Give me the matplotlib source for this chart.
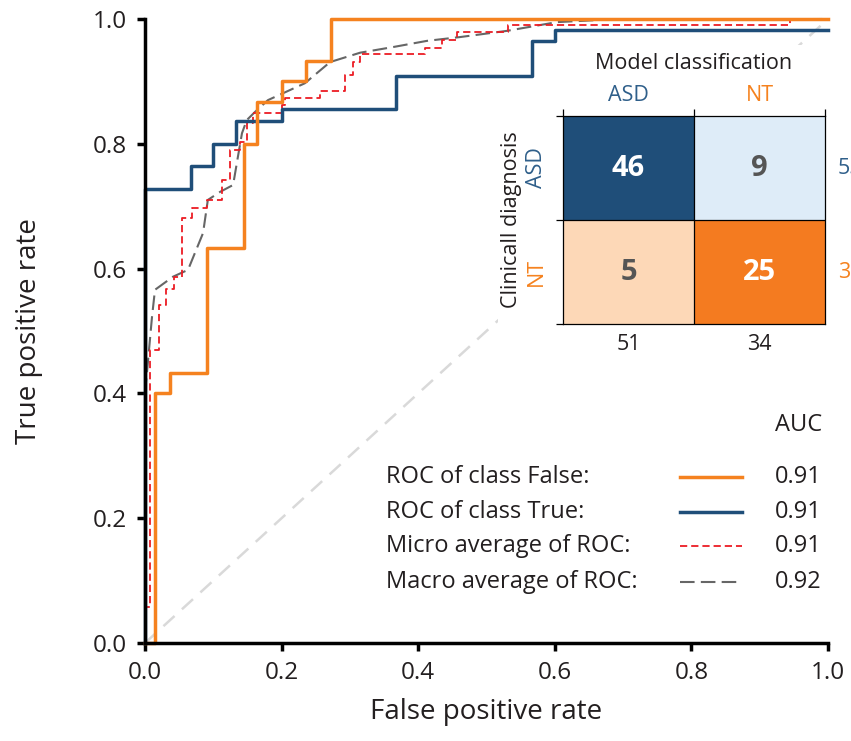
import matplotlib
matplotlib.use("Agg")
import matplotlib.pyplot as plt
from matplotlib.patches import Rectangle
import numpy as np

plt.rcParams['font.family'] = ['Open Sans', 'DejaVu Sans']

# ---------------- data ----------------
fpr_false = [0, 0.014, 0.014, 0.036, 0.036, 0.091, 0.091, 0.145, 0.145, 0.164, 0.164,
             0.2, 0.2, 0.236, 0.236, 0.273, 0.273, 1.0]
tpr_false = [0, 0, 0.4, 0.4, 0.433, 0.433, 0.633, 0.633, 0.8, 0.8, 0.867,
             0.867, 0.9, 0.9, 0.933, 0.933, 1.0, 1.0]

fpr_true = [0, 0, 0.067, 0.067, 0.1, 0.1, 0.133, 0.133, 0.2, 0.2, 0.367, 0.367,
            0.567, 0.567, 0.6, 0.6, 1.0]
tpr_true = [0, 0.727, 0.727, 0.764, 0.764, 0.8, 0.8, 0.836, 0.836, 0.855, 0.855, 0.909,
            0.909, 0.964, 0.964, 0.982, 0.982]

fpr_micro = [0, 0, 0.0073, 0.0073, 0.0198, 0.0198, 0.0307, 0.0307, 0.0425, 0.0425,
             0.0542, 0.0542, 0.0688, 0.0688, 0.0908, 0.0908, 0.1127, 0.1127, 0.1245, 0.1245,
             0.139, 0.139, 0.149, 0.149, 0.158, 0.158, 0.2006, 0.2006, 0.205, 0.205,
             0.256, 0.256, 0.293, 0.293, 0.3045, 0.3045, 0.315, 0.315, 0.41, 0.41,
             0.435, 0.435, 0.457, 0.457, 0.531, 0.531, 0.944, 0.944]
tpr_micro = [0, 0.058, 0.058, 0.47, 0.47, 0.542, 0.542, 0.567, 0.567, 0.587,
             0.587, 0.681, 0.681, 0.697, 0.697, 0.71, 0.71, 0.742, 0.742, 0.79,
             0.79, 0.803, 0.803, 0.833, 0.833, 0.849, 0.849, 0.862, 0.862, 0.873,
             0.873, 0.885, 0.885, 0.91, 0.91, 0.931, 0.931, 0.944, 0.944, 0.954,
             0.954, 0.966, 0.966, 0.979, 0.979, 0.99, 0.99, 1.0]

fpr_macro = [0, 0.0015, 0.0102, 0.0146, 0.041, 0.063, 0.085, 0.092, 0.11, 0.129, 0.136,
             0.142, 0.149, 0.161, 0.18, 0.234, 0.271, 0.315, 0.363, 0.413, 0.461, 0.53,
             0.603, 0.676, 1.0]
tpr_macro = [0, 0.417, 0.522, 0.566, 0.587, 0.598, 0.657, 0.71, 0.723, 0.734, 0.779,
             0.817, 0.838, 0.851, 0.870, 0.897, 0.931, 0.946, 0.955, 0.965, 0.971, 0.981,
             0.995, 0.999, 1.0]

legend_labels = ["ROC of class False:", "ROC of class True:",
                 "Micro average of ROC:", "Macro average of ROC:"]
auc_values = [0.91, 0.91, 0.91, 0.92]

cm_values = [[46, 9], [5, 25]]
class_names = ["ASD", "NT"]
row_totals = [55, 30]
col_totals = [51, 34]

# ---------------- styles ----------------
ORANGE = "#f5821f"
BLUE = "#1f4e79"
RED = "#ec1c24"
GRAY = "#666666"
DIAG = "#d9d9d9"
TXT = "#231f20"
cell_colors = [["#1f4e79", "#deecf8"], ["#fdd8b7", "#f47b20"]]
text_colors = [["white", "#555555"], ["#555555", "white"]]
label_colors = ["#2f5f8a", ORANGE]
LW_MAIN = 2.5
LW_MICRO = 1.3
LW_MACRO = 1.5
D_MICRO = (4, 2.2)
D_MACRO = (7, 3)

W, H = 851, 741
fig = plt.figure(figsize=(W / 100, H / 100), dpi=100)
ax = fig.add_axes([145 / W, 1 - 643 / H, 683 / W, 624 / H])

ax.plot([0, 1], [0, 1], color=DIAG, lw=1.8, dashes=(6, 4), zorder=1)
# white box behind the inset (hides the chance line there)
ax.add_patch(Rectangle((498 / W, 1 - 362 / H), (W - 498) / W, (362 - 45) / H,
                       transform=fig.transFigure, facecolor="white", edgecolor="none",
                       zorder=2, clip_on=False))
ax.plot(fpr_macro, tpr_macro, color=GRAY, lw=LW_MACRO, dashes=D_MACRO, zorder=3,
        clip_on=False)
ax.plot(fpr_micro, tpr_micro, color=RED, lw=LW_MICRO, dashes=D_MICRO, zorder=4,
        clip_on=False)
ax.plot(fpr_true, tpr_true, color=BLUE, lw=LW_MAIN, zorder=5, clip_on=False)
ax.plot(fpr_false, tpr_false, color=ORANGE, lw=LW_MAIN, zorder=6, clip_on=False)

ax.set_xlim(0, 1)
ax.set_ylim(0, 1)
for s in ["top", "right"]:
    ax.spines[s].set_visible(False)
for s in ["left", "bottom"]:
    ax.spines[s].set_linewidth(2.5)
    ax.spines[s].set_zorder(10)
ticks = np.arange(0, 1.01, 0.2)
ax.set_xticks(ticks)
ax.set_yticks(ticks)
ax.set_xticklabels([f"{v:.1f}" for v in ticks])
ax.set_yticklabels([f"{v:.1f}" for v in ticks])
ax.tick_params(direction="out", length=6, width=2.5, labelsize=17.5, pad=7,
               labelcolor=TXT)
ax.set_xlabel("False positive rate", fontsize=20, color=TXT)
ax.set_ylabel("True positive rate", fontsize=20, color=TXT)
ax.xaxis.set_label_coords(0.5, -0.088)
ax.yaxis.set_label_coords(-0.15, 0.5)

# custom legend
FS_LEG = 17
ax.text(0.922, 0.349, "AUC", fontsize=FS_LEG, va="center", ha="left", color=TXT)
row_y = [0.266, 0.21, 0.155, 0.098]
styles = [dict(color=ORANGE, lw=LW_MAIN), dict(color=BLUE, lw=LW_MAIN),
          dict(color=RED, lw=LW_MICRO, dashes=D_MICRO),
          dict(color=GRAY, lw=LW_MACRO, dashes=D_MACRO)]
for lab, auc, yy, st in zip(legend_labels, auc_values, row_y, styles):
    ax.text(0.353, yy, lab, fontsize=FS_LEG, va="center", ha="left", color=TXT)
    ax.plot([0.783, 0.874], [yy, yy], **st)
    ax.text(0.922, yy, f"{auc:.2f}", fontsize=FS_LEG, va="center", ha="left", color=TXT)

# inset confusion matrix
iax = fig.add_axes([563 / W, 1 - 324 / H, 262 / W, 208 / H])
iax.set_zorder(5)
rgb = np.array([[matplotlib.colors.to_rgb(c) for c in row] for row in cell_colors])
iax.imshow(rgb, extent=(0, 2, 2, 0), aspect="auto", interpolation="nearest")
iax.set_xlim(0, 2)
iax.set_ylim(2, 0)
iax.axvline(1, color="black", lw=0.9)
iax.axhline(1, color="black", lw=0.9)
for s in iax.spines.values():
    s.set_linewidth(0.9)
iax.set_xticks([0, 1, 2])
iax.set_yticks([0, 1, 2])
iax.set_xticklabels([])
iax.set_yticklabels([])
iax.tick_params(top=True, bottom=False, left=True, right=False,
                direction="out", length=5, width=0.9)
FS_IN = 15.5
for i in range(2):
    for j in range(2):
        iax.text(j + 0.5, i + 0.5, str(cm_values[i][j]), ha="center", va="center",
                 fontsize=21, fontweight="bold", color=text_colors[i][j])
for k, name in enumerate(class_names):
    iax.text(k + 0.5, -0.1, name, ha="center", va="bottom", fontsize=FS_IN,
             color=label_colors[k])
    iax.text(-0.12, k + 0.5, name, ha="right", va="center", rotation=90, fontsize=FS_IN,
             color=label_colors[k])
    iax.text(k + 0.5, 2.1, str(col_totals[k]), ha="center", va="top", fontsize=FS_IN,
             color=TXT)
    iax.text(2.1, k + 0.5, str(row_totals[k]), ha="left", va="center", fontsize=FS_IN,
             color=label_colors[k])
iax.text(1.0, -0.4, "Model classification", ha="center", va="bottom", fontsize=FS_IN,
         color=TXT)
iax.text(-0.31, 1.0, "Clinicall diagnosis", ha="right", va="center", rotation=90,
         fontsize=FS_IN, color=TXT)

fig.savefig("out.png", dpi=100)
